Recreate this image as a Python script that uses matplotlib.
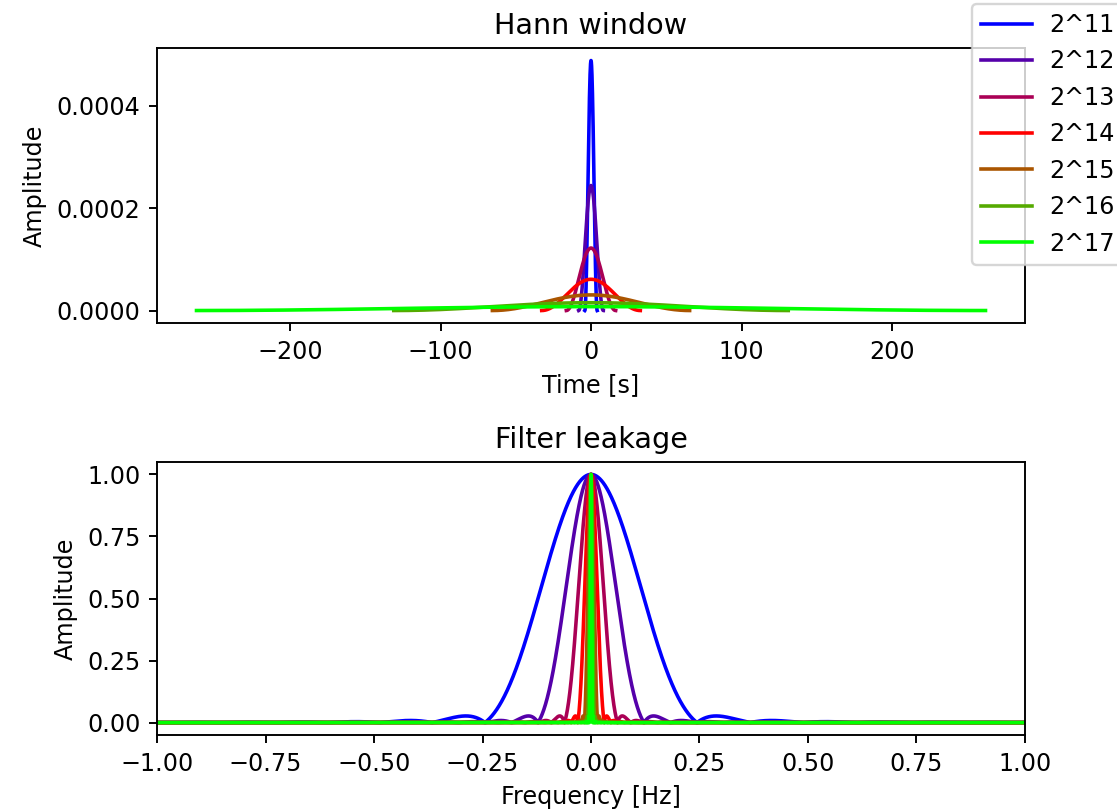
import numpy as np
import matplotlib.pyplot as plt

# window lengths (as powers of two), sampling rate and line colours
exponents = [11, 12, 13, 14, 15, 16, 17]
labels = ['2^%d' % e for e in exponents]
fs = 250.0
colors = [(0, 0, 1), (1/3, 0, 2/3), (2/3, 0, 1/3), (1, 0, 0),
          (2/3, 1/3, 0), (1/3, 2/3, 0), (0, 1, 0)]
NFFT = 2**20
DPI = 172

fig = plt.figure(figsize=(1117/DPI, 810/DPI), dpi=DPI)
ax1 = fig.add_axes([0.1406, 0.6012, 0.7770, 0.3395])
ax2 = fig.add_axes([0.1406, 0.0926, 0.7770, 0.3370])

for e, lab, c in zip(exponents, labels, colors):
    n = 2**e
    w = np.hanning(n) / n
    t = (np.arange(n) - n/2) / fs
    ax1.plot(t, w, color=c, lw=1.5, label=lab)

    W = np.abs(np.fft.fftshift(np.fft.fft(w, NFFT)))
    W /= W.max()
    f = np.fft.fftshift(np.fft.fftfreq(NFFT, 1/fs))
    m = np.abs(f) <= 1.05
    ax2.plot(f[m], W[m], color=c, lw=1.5)

ax1.set_title('Hann window')
ax1.set_xlabel('Time [s]')
ax1.set_ylabel('Amplitude')
ax1.set_yticks([0, 0.0002, 0.0004])
ax1.set_yticklabels(['0.0000', '0.0002', '0.0004'])

ax2.set_title('Filter leakage')
ax2.set_xlabel('Frequency [Hz]')
ax2.set_ylabel('Amplitude')
ax2.set_xlim(-1, 1)
ax2.set_yticks([0, 0.25, 0.5, 0.75, 1.0])
ax2.set_yticklabels(['0.00', '0.25', '0.50', '0.75', '1.00'])

fig.legend(loc='upper left', bbox_to_anchor=(972/1117, 1 - 4/810),
           borderaxespad=0, borderpad=0.38, handlelength=2.15,
           handletextpad=0.72, labelspacing=0.52)

plt.savefig('out.png', dpi=DPI)
